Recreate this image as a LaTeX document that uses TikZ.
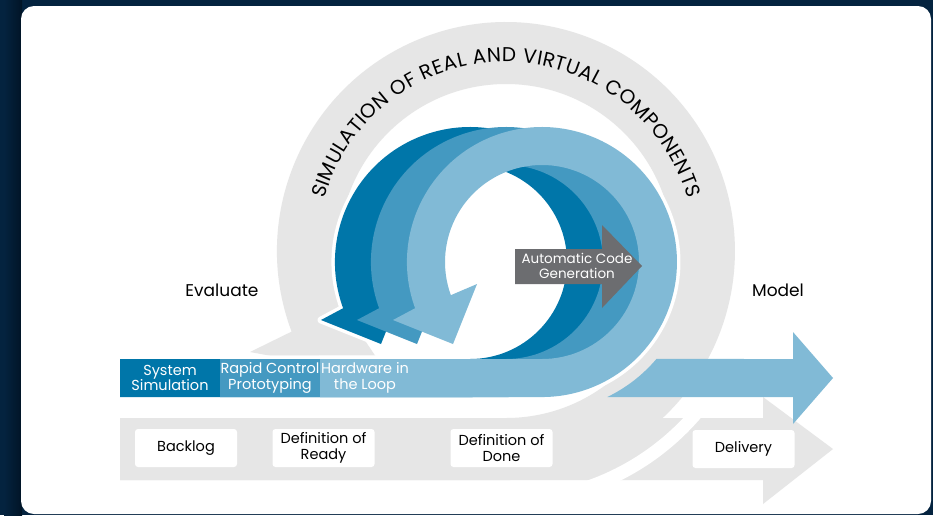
\documentclass[tikz,border=0pt]{standalone}
\usepackage{fontspec}
\setmainfont{Poppins}
\usetikzlibrary{decorations.text}

\definecolor{navybg}{HTML}{04233F}
\definecolor{navydeep}{HTML}{011426}
\definecolor{bandgrey}{HTML}{E6E6E6}
\definecolor{simblue}{HTML}{0076A9}
\definecolor{rcpblue}{HTML}{4499C1}
\definecolor{hilblue}{HTML}{81BAD6}
\definecolor{codegrey}{HTML}{6C6D70}

\newcommand{\lblfont}{\fontsize{14.5}{15.5}\selectfont}
\newcommand{\codefont}{\fontsize{13.5}{14.5}\selectfont}
\newcommand{\phasefont}{\fontsize{17}{19}\selectfont}
\newcommand{\arcfont}{\fontsize{20}{21}\selectfont}

\begin{document}
\begin{tikzpicture}[
    x=1pt, y=-1pt,
    greyband/.style={fill=bandgrey},
    halo/.style={draw=white, line width=7pt, line join=round},
    labelbox/.style={fill=white, rounded corners=3pt, minimum width=102pt, minimum height=38pt, align=center, inner sep=1pt, font=\lblfont},
    bartext/.style={text=white, align=center, inner sep=0pt, font=\lblfont},
    codetext/.style={text=white, align=center, inner sep=0pt, font=\codefont},
    phase/.style={text=black, inner sep=0pt, font=\phasefont}
]
\useasboundingbox (0,0) rectangle (933,515);

% Panel
\fill[navybg] (0,0) rectangle (933,515);
\fill[left color=navybg, right color=navydeep] (4,0) rectangle (22,515);
\fill[white, rounded corners=13pt] (21,6) rectangle (931,514);

% Grey band with delivery arrow
\fill[greyband] (120,418) -- (763,418) -- (763,397) -- (833,449) -- (763,504) -- (763,480) -- (120,480) -- cycle;

% Grey loop
\fill[greyband] (120,418) -- (506,418) arc[start angle=90, end angle=-215, radius=167]
    -- (390,378) -- (250,352) -- (291.6,331.6)
    arc[start angle=-200.6, end angle=90, radius=229] -- (120,480) -- cycle;
\draw[white, line width=13pt] (506,251) ++(37:250) arc[start angle=37, end angle=72, radius=250];

% Loop title
\path[decorate, decoration={text along path, text align=fit to path,
    text={|\arcfont|SIMULATION OF REAL AND VIRTUAL COMPONENTS}}]
    (506,251) ++(-164:189) arc[start angle=-164, end angle=-16, radius=189];

% Blue loops
\foreach \cx/\xs in {470/120, 506/220, 542/320}
  \draw[halo] (\xs,359) -- (\cx,359) arc[start angle=90, end angle=-200, radius=97]
    -- ({\cx-65},284) -- ({\cx-89},344) -- ({\cx-149},320) -- ({\cx-126.9},308.2)
    arc[start angle=-200, end angle=90, radius=135] -- (\xs,397) -- cycle;
\foreach \cx/\xs/\col in {470/120/simblue, 506/220/rcpblue, 542/320/hilblue}
  \fill[\col] (\xs,359) -- (\cx,359) arc[start angle=90, end angle=-200, radius=97]
    -- ({\cx-65},284) -- ({\cx-89},344) -- ({\cx-149},320) -- ({\cx-126.9},308.2)
    arc[start angle=-200, end angle=90, radius=135] -- (\xs,397) -- cycle;

% Model arrow
\fill[hilblue] (607.3,397) arc[start angle=64.2, end angle=40.3, radius=150]
    -- (793,359) -- (793,332) -- (833,378) -- (793,424) -- (793,397) -- cycle;

% Code generation arrow
\fill[codegrey] (515,249) -- (602,249) -- (602,225) -- (642,266) -- (602,308) -- (602,284) -- (515,284) -- cycle;
\node[codetext] (acg) at (577,266) {Automatic Code\\Generation};

% Bar labels
\node[bartext] (sysim) at (170,378) {System\\Simulation};
\node[bartext] (rcp) at (270,378) {Rapid Control\\Prototyping};
\node[bartext] (hil) at (365,378) {Hardware in\\the Loop};

% Phases
\node[phase] (evaluate) at (222,290) {Evaluate};
\node[phase] (model) at (778,290) {Model};

% Band labels
\node[labelbox] (backlog) at (186,448) {Backlog};
\node[labelbox] (ready) at (323.5,448) {Definition of\\Ready};
\node[labelbox] (done) at (501.5,448) {Definition of\\Done};
\node[labelbox] (delivery) at (743.5,449) {Delivery};

\end{tikzpicture}
\end{document}
